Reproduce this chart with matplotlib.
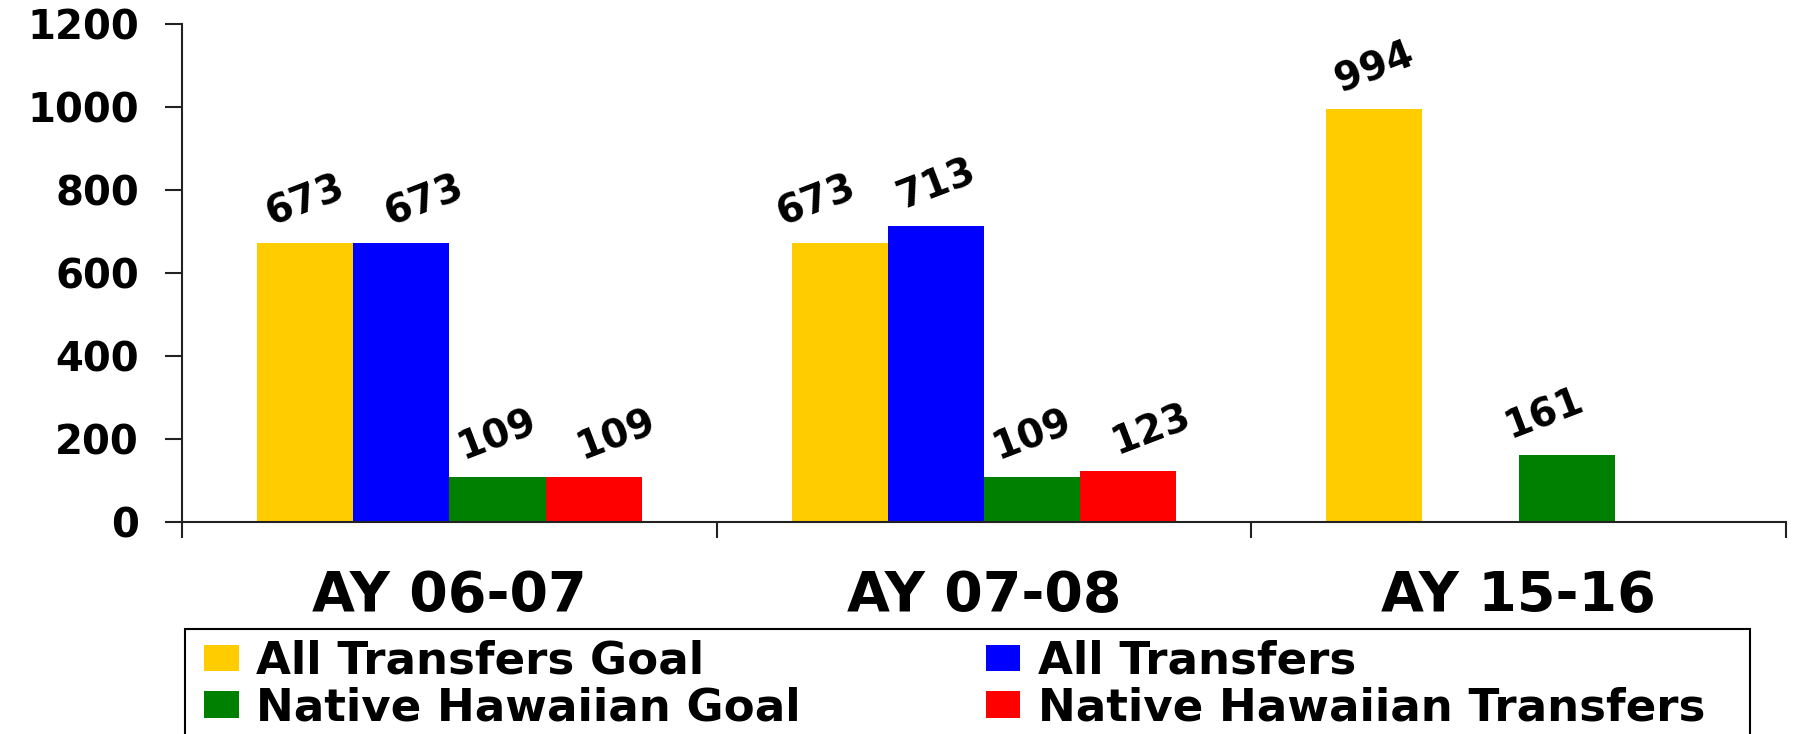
import numpy as np
import matplotlib
matplotlib.use("Agg")
import matplotlib.pyplot as plt
from matplotlib.patches import Patch, Rectangle

# data
categories = ["AY 06-07", "AY 07-08", "AY 15-16"]
series_names = ["All Transfers Goal", "All Transfers",
                "Native Hawaiian Goal", "Native Hawaiian Transfers"]
all_goal = [673, 673, 994]
all_transfers = [673, 713, np.nan]
nh_goal = [109, 109, 161]
nh_transfers = [109, 123, np.nan]

colors = ["#FFCC00", "#0000FF", "#008000", "#FF0000"]
series = [all_goal, all_transfers, nh_goal, nh_transfers]

# label nudges (points), excel moved some labels sideways
nudge = [[0, 16.5, 0, 16.5],
         [-16.5, 0, 0, 16.5],
         [0, 0, -16, 0]]

W, H = 1798, 734
fig = plt.figure(figsize=(W / 100, H / 100), dpi=100)
ax = fig.add_axes([182 / W, 1 - 522 / H, 1604 / W, 498 / H])

font = "DejaVu Sans"
x = np.arange(len(categories))
bw = 0.18
offsets = np.array([-1.5, -0.5, 0.5, 1.5]) * bw

for i, (vals, col) in enumerate(zip(series, colors)):
    vals = np.array(vals, dtype=float)
    ax.bar(x + offsets[i], np.nan_to_num(vals), width=bw, color=col,
           linewidth=0, zorder=2)
    for j, v in enumerate(vals):
        if np.isnan(v):
            continue
        ax.annotate(f"{int(v)}", xy=(x[j] + offsets[i], v),
                    xytext=(nudge[j][i], 30), textcoords="offset points",
                    ha="center", va="center", rotation=21,
                    fontsize=28, fontweight="bold", family=font)

ax.set_xlim(-0.5, 2.5)
ax.set_ylim(0, 1200)
ax.set_yticks(np.arange(0, 1201, 200))
ax.tick_params(axis="y", length=12, width=1.5, pad=19, labelsize=29)
for lab in ax.get_yticklabels():
    lab.set_fontweight("bold")
    lab.set_family(font)

# group boundaries as major ticks, names as minor ticks
ax.set_xticks(np.arange(-0.5, 3.0, 1.0))
ax.set_xticklabels([])
ax.tick_params(axis="x", which="major", length=11.5, width=1.5)
ax.set_xticks(x, minor=True)
ax.set_xticklabels(categories, minor=True, fontsize=40,
                   fontweight="bold", family=font)
ax.tick_params(axis="x", which="minor", length=0, pad=34)

for s in ["top", "right"]:
    ax.spines[s].set_visible(False)
for s in ["left", "bottom"]:
    ax.spines[s].set_linewidth(1.5)
    ax.spines[s].set_color("#222222")
ax.tick_params(colors="#222222", labelcolor="black")

# legend
handles = [Patch(facecolor=c, edgecolor="none") for c in colors]
order = [0, 2, 1, 3]
fig.legend([handles[k] for k in order], [series_names[k] for k in order],
           loc="upper left", bbox_to_anchor=(204 / W, 1 - 640 / H),
           ncol=2, frameon=False, borderpad=0, borderaxespad=0,
           handlelength=0.77, handleheight=0.54, handletextpad=0.38,
           labelspacing=0.08, columnspacing=4.1,
           prop={"family": font, "weight": "bold", "size": 32.5})
fig.add_artist(Rectangle((185 / W, 1 - 760 / H), (1750 - 185) / W, (760 - 629) / H,
                         transform=fig.transFigure, fill=False,
                         edgecolor="black", linewidth=1.5))

fig.savefig("out.png", dpi=100)
